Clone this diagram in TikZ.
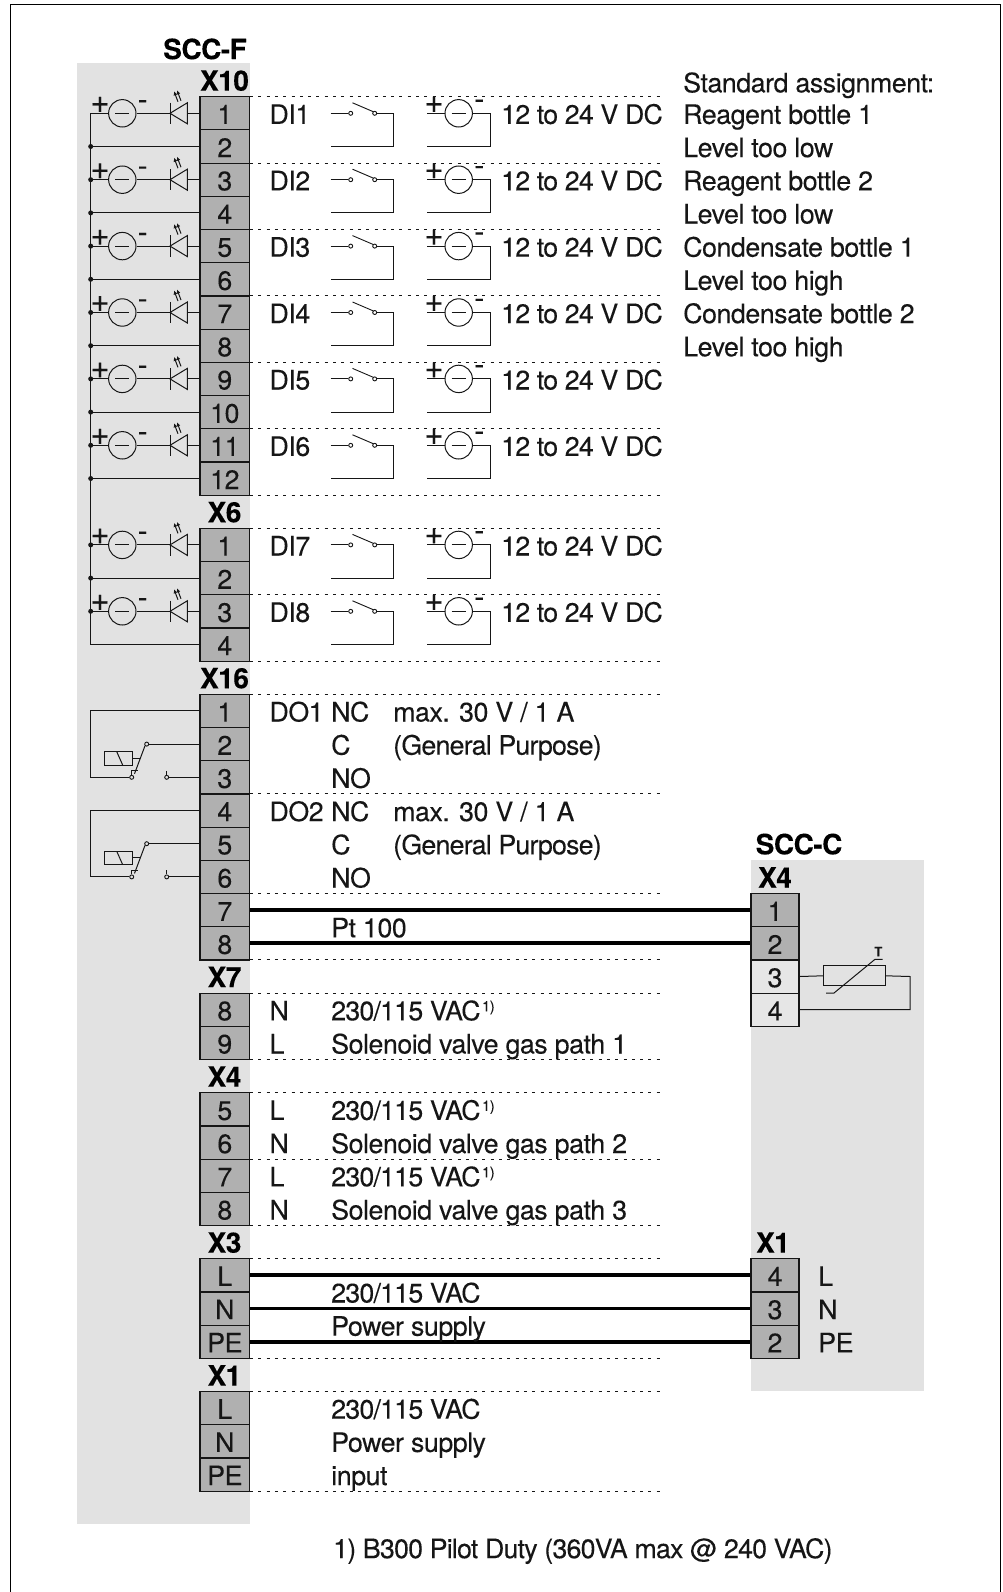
\documentclass[tikz,border=0pt]{standalone}
\usepackage{fontspec}
\setmainfont[LetterSpace=-1.8,FakeBold=0.12]{TeX Gyre Heros}
\usetikzlibrary{arrows.meta}
\definecolor{bgray}{HTML}{E2E2E2}
\definecolor{tdark}{HTML}{B0B0B0}
\definecolor{tlight}{HTML}{E6E6E6}
\definecolor{ink}{HTML}{161616}
\newcounter{tn}
\newcommand\Tx[3]{\stepcounter{tn}\node[tx] (txt\arabic{tn}) at (#1,{ry(#2)}) {#3};}
\newcommand\Bd[3]{\stepcounter{tn}\node[bd] (txt\arabic{tn}) at (#1,{ry(#2)}) {#3};}
\newcommand\Tt[1]{{\addfontfeature{LetterSpace=-3}#1}}
\newcommand\Sup{\hspace{1.5pt}\raisebox{9pt}{\fontsize{14.5}{14.5}\selectfont 1)}}
\begin{document}
\begin{tikzpicture}[x=1pt,y=-1pt,
  declare function={ry(\k)=96.7+33.2*\k;},
  every node/.style={font=\fontsize{26.8}{30}\selectfont,text=ink},
  tx/.style={anchor=base west,inner sep=0pt,yshift=-10.6pt},
  bd/.style={anchor=base,inner sep=0pt,yshift=-10.6pt,font=\fontsize{28}{30}\selectfont\bfseries,text=black},
  term/.style={draw=ink,line width=1.2pt,fill=tdark,minimum width=49.5pt,minimum height=33.2pt,inner sep=0pt,text height=21.3pt,text depth=0pt},
  light/.style={fill=tlight},
  wire/.style={draw=ink,line width=1pt},
  thick wire/.style={draw=black,line width=3.7pt},
  dots/.style={draw=ink,line width=1.1pt,dash pattern=on 3pt off 5.3pt},
  srcc/.style={circle,draw=ink,line width=1pt,minimum size=27.4pt,inner sep=0pt},
  jdot/.style={circle,fill=ink,minimum size=5pt,inner sep=0pt},
  cont/.style={circle,draw=ink,line width=0.9pt,fill=bgray,minimum size=4pt,inner sep=0pt},
  contw/.style={circle,draw=ink,line width=0.9pt,fill=white,minimum size=4pt,inner sep=0pt},
  sgn/.style={inner sep=0pt,font=\fontsize{33}{33}\selectfont},
  sgnm/.style={inner sep=0pt,font=\fontsize{30}{30}\selectfont},
  ledarrow/.style={draw=ink,line width=1pt,-{Latex[length=4pt,width=4pt]}}
]
\useasboundingbox (0,0) rectangle (1002,1592);
% frame (open at the bottom)
\draw[black,line width=1.3pt] (10.5,1592) -- (10.5,4.5) -- (1000.5,4.5) -- (1000.5,1592);
% gray carriers
\fill[bgray] (77,63.5) rectangle (250,1524);
\fill[bgray] (751,860) rectangle (924,1391);

% dotted separators
\foreach \k in {0,2,4,6,8,10,12,13,15,17,18,21,24,26,27,29,30,32,34,35,38,39,42}{
  \coordinate (dl\k) at (250,{ry(\k)});
  \coordinate (dr\k) at (663,{ry(\k)});
  \draw[dots] (dl\k) -- (dr\k);
}

% headings
\Bd{205}{-1.45}{SCC-F}
\Bd{224.5}{-0.5}{X10}
\Bd{224.5}{12.5}{X6}
\Bd{224.5}{17.5}{X16}
\Bd{224.5}{26.5}{X7}
\Bd{224.5}{29.5}{X4}
\Bd{224.5}{34.5}{X3}
\Bd{224.5}{38.5}{X1}
\Bd{799}{22.5}{SCC-C}
\Bd{775}{23.5}{X4}
\Bd{773}{34.5}{X1}

% terminals left
\foreach \n [count=\i from 0] in {1,...,12}{
  \node[term] (XA\n) at (224.8,{ry(\i+0.5)}) {\n};
}
\foreach \n [count=\i from 13] in {1,...,4}{
  \node[term] (XB\n) at (224.8,{ry(\i+0.5)}) {\n};
}
\foreach \n [count=\i from 18] in {1,...,8}{
  \node[term] (XC\n) at (224.8,{ry(\i+0.5)}) {\n};
}
\foreach \n [count=\i from 27] in {8,9}{
  \node[term] (XD\n) at (224.8,{ry(\i+0.5)}) {\n};
}
\foreach \n [count=\i from 30] in {5,...,8}{
  \node[term] (XE\n) at (224.8,{ry(\i+0.5)}) {\n};
}
\foreach \n [count=\i from 35] in {L,N,PE}{
  \node[term] (XF\n) at (224.8,{ry(\i+0.5)}) {\n};
}
\foreach \n [count=\i from 39] in {L,N,PE}{
  \node[term] (XG\n) at (224.8,{ry(\i+0.5)}) {\n};
}
% terminals right
\node[term,minimum width=48pt] (RA1) at (775,{ry(24.5)}) {1};
\node[term,minimum width=48pt] (RA2) at (775,{ry(25.5)}) {2};
\node[term,minimum width=48pt,light] (RA3) at (775,{ry(26.5)}) {3};
\node[term,minimum width=48pt,light] (RA4) at (775,{ry(27.5)}) {4};
\node[term,minimum width=48pt] (RB4) at (775,{ry(35.5)}) {4};
\node[term,minimum width=48pt] (RB3) at (775,{ry(36.5)}) {3};
\node[term,minimum width=48pt] (RB2) at (775,{ry(37.5)}) {2};

% thick wires
\draw[thick wire] (XC7.east) -- (RA1.west);
\draw[thick wire] (XC8.east) -- (RA2.west);
\draw[thick wire] (XFL.east) -- (RB4.west);
\draw[thick wire] (XFN.east) -- (RB3.west);
\draw[thick wire] (XFPE.east) -- (RB2.west);

% digital inputs
\foreach \T/\U/\k/\lab/\bd in {XA1/XA2/0.5/DI1/c,XA3/XA4/2.5/DI2/j,XA5/XA6/4.5/DI3/j,XA7/XA8/6.5/DI4/j,XA9/XA10/8.5/DI5/j,XA11/XA12/10.5/DI6/j,XB1/XB2/13.5/DI7/j,XB3/XB4/15.5/DI8/j}{
  \pgfmathsetmacro\yy{ry(\k)}
  \pgfmathsetmacro\yb{ry(\k+1)}
  % wiring on the module side
  \node[srcc] (src\lab) at (122.3,\yy) {};
  \coordinate (bus\lab) at (90.7,\yy);
  \coordinate (busb\lab) at (90.7,\yb);
  \coordinate (bar\lab) at (170,\yy);
  \coordinate (tri\lab) at (187.3,\yy);
  \draw[wire] (bus\lab) -- (src\lab.west);
  \draw[wire] (src\lab.east) -- (bar\lab);
  \draw[wire] (tri\lab) -- (\T.west);
  \draw[wire] (busb\lab) -- (\U.west);
  \draw[wire] (115.3,\yy) -- (129.3,\yy);
  \draw[wire] (170,\yy-10.7) -- (170,\yy+10.7);
  \draw[wire,line join=miter] (bar\lab) -- (187.3,\yy-10.5) -- (187.3,\yy+10.5) -- cycle;
  \draw[ledarrow] (178,\yy-11.5) -- (174,\yy-22);
  \draw[ledarrow] (181,\yy-12.5) -- (177,\yy-23);
  \node[sgn] (plus\lab) at (100,\yy-8.5) {+};
  \node[sgnm] (minus\lab) at (142.7,\yy-8.5) {-};
  \if\bd j\node[jdot] (jd\lab) at (bus\lab) {};\fi
  \ifnum\pdfstrcmp{\lab}{DI8}=0\else\node[jdot] (jdb\lab) at (busb\lab) {};\fi
  % external switch
  \Tx{269.3}{\k}{\lab}
  \coordinate (swa\lab) at (330.7,\yy);
  \node[contw] (swb\lab) at (350.7,\yy) {};
  \node[contw] (swc\lab) at (374.7,\yy) {};
  \coordinate (swd\lab) at (393.7,\yy);
  \coordinate (swe\lab) at (393.7,\yb);
  \coordinate (swf\lab) at (330.7,\yb);
  \draw[wire,line width=0.9pt] (swa\lab) -- (swb\lab.west);
  \draw[wire,line width=0.9pt] (swc\lab.east) -- (swd\lab) -- (swe\lab) -- (swf\lab);
  \draw[wire,line width=0.9pt] (352.5,\yy-10.5) -- (373.5,\yy-1.5);
  % external supply
  \node[srcc] (ext\lab) at (458.7,\yy) {};
  \coordinate (exa\lab) at (427.3,\yy);
  \coordinate (exb\lab) at (490,\yy);
  \coordinate (exc\lab) at (490,\yb);
  \coordinate (exd\lab) at (427.3,\yb);
  \draw[wire,line width=0.9pt] (exa\lab) -- (ext\lab.west);
  \draw[wire,line width=0.9pt] (ext\lab.east) -- (exb\lab) -- (exc\lab) -- (exd\lab);
  \draw[wire] (451.7,\yy) -- (465.7,\yy);
  \node[sgn] (expl\lab) at (434,\yy-8.5) {+};
  \node[sgnm] (exmi\lab) at (479.3,\yy-9) {-};
  \Tx{501}{\k}{\Tt{12 to 24 V DC}}
}
% common bus
\coordinate (busend) at (90.7,{ry(16.5)});
\draw[wire] (busDI1) -- (busend);

% relays
\foreach \Ta/\Tb/\Tc/\k/\r in {XC1/XC2/XC3/18.5/A,XC4/XC5/XC6/21.5/B}{
  \pgfmathsetmacro\ya{ry(\k)}
  \pgfmathsetmacro\yb{ry(\k+1)}
  \pgfmathsetmacro\yc{ry(\k+2)}
  \coordinate (rl\r) at (90.7,\ya);
  \coordinate (rm\r) at (90.7,\yc);
  \node[cont] (rc\r) at (131.7,\yc) {};
  \node[cont] (rd\r) at (146.7,\yb) {};
  \node[cont] (re\r) at (166.7,\yc) {};
  \draw[wire] (\Ta.west) -- (rl\r) -- (rm\r) -- (rc\r.west);
  \draw[wire] (rd\r.east) -- (\Tb.west);
  \draw[wire] (re\r.east) -- (\Tc.west);
  \draw[wire] (166.7,\yc-6.5) -- (re\r.north);
  \draw[wire] (rc\r.north) -- (131.7,\yc-6.7) -- (138,\yc-6.7);
  \draw[wire] (rd\r.south west) -- (134.5,\yc-3.5);
  \draw[wire] (104.3,\yb+7.5) rectangle (132.3,\yb+21);
  \draw[wire] (116.7,\yb+7.5) -- (122.7,\yb+21);
  \draw[wire] (132.3,\yb+14) -- (140,\yb+14);
}

% DO / text
\Tx{269.3}{18.5}{DO1}
\Tx{331}{18.5}{NC}
\Tx{393}{18.5}{max. 30 V / 1 A}
\Tx{331}{19.5}{C}
\Tx{393}{19.5}{\Tt{(General Purpose)}}
\Tx{331}{20.5}{NO}
\Tx{269.3}{21.5}{DO2}
\Tx{331}{21.5}{NC}
\Tx{393}{21.5}{max. 30 V / 1 A}
\Tx{331}{22.5}{C}
\Tx{393}{22.5}{\Tt{(General Purpose)}}
\Tx{331}{23.5}{NO}
\Tx{331}{25}{Pt 100}
\Tx{269.3}{27.5}{N}
\Tx{331}{27.5}{\Tt{230/115 VAC}\Sup}
\Tx{269.3}{28.5}{L}
\Tx{331}{28.5}{Solenoid valve gas path 1}
\Tx{269.3}{30.5}{L}
\Tx{331}{30.5}{\Tt{230/115 VAC}\Sup}
\Tx{269.3}{31.5}{N}
\Tx{331}{31.5}{Solenoid valve gas path 2}
\Tx{269.3}{32.5}{L}
\Tx{331}{32.5}{\Tt{230/115 VAC}\Sup}
\Tx{269.3}{33.5}{N}
\Tx{331}{33.5}{Solenoid valve gas path 3}
\Tx{331}{36}{\Tt{230/115 VAC}}
\Tx{331}{37}{Power supply}
\Tx{331}{39.5}{\Tt{230/115 VAC}}
\Tx{331}{40.5}{Power supply}
\Tx{331}{41.5}{input}
\Tx{818}{35.5}{L}
\Tx{818}{36.5}{N}
\Tx{818}{37.5}{PE}
\Tx{333}{43.7}{\Tt{1) B300 Pilot Duty (360VA max @ 240 VAC)}}
\Tx{683}{-0.45}{Standard assignment:}
\Tx{683}{0.5}{Reagent bottle 1}
\Tx{683}{1.5}{Level too low}
\Tx{683}{2.5}{Reagent bottle 2}
\Tx{683}{3.5}{Level too low}
\Tx{683}{4.5}{Condensate bottle 1}
\Tx{683}{5.5}{Level too high}
\Tx{683}{6.5}{Condensate bottle 2}
\Tx{683}{7.5}{Level too high}

% Pt100 sensor
\node[draw=ink,line width=1pt,fill=none,minimum width=62pt,minimum height=19.7pt,inner sep=0pt] (rtd) at (854.3,975.8) {};
\coordinate (rtdc) at (910,{ry(26.5)});
\coordinate (rtdd) at (910,{ry(27.5)});
\draw[wire] (RA3.east) -- (rtd.west);
\draw[wire] (rtd.east) -- (rtdc) -- (rtdd) -- (RA4.east);
\draw[wire] (826,993) -- (834,993) -- (875,959.3) -- (882.7,959.3);
\node[inner sep=0pt,font=\fontsize{13}{13}\selectfont\bfseries] (rtdT) at (878.3,951.5) {T};
\end{tikzpicture}
\end{document}
